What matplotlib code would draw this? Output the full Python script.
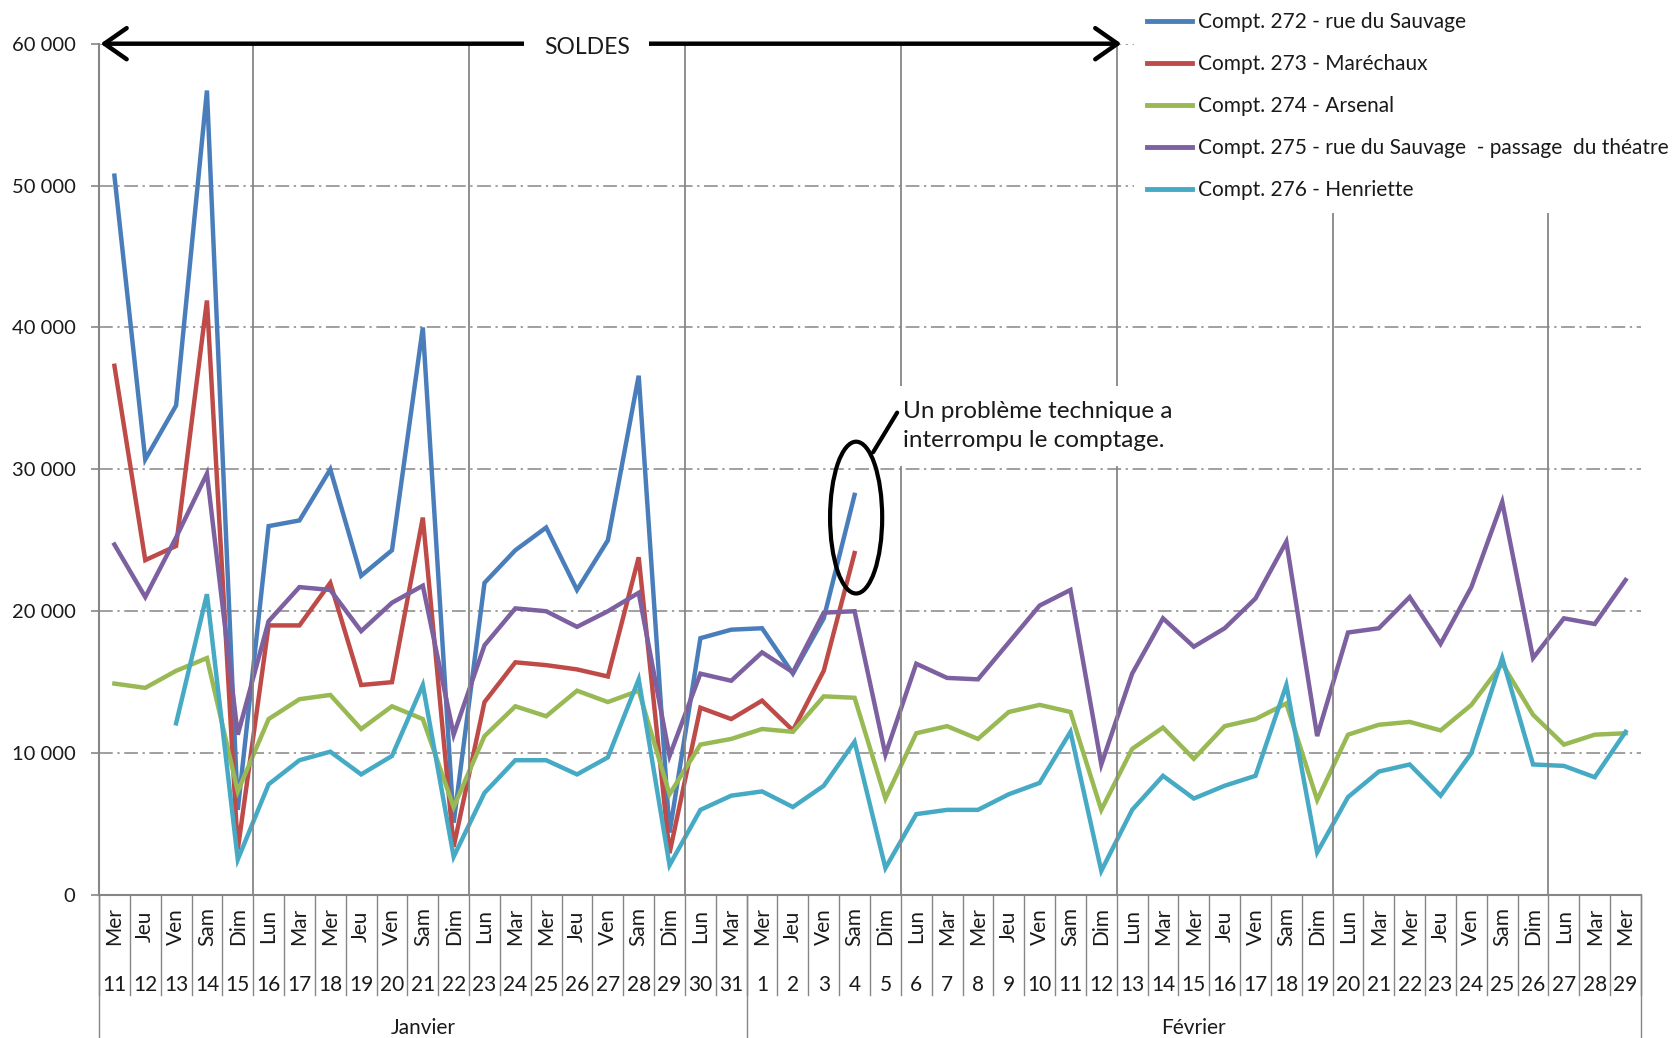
import numpy as np
import matplotlib
matplotlib.use("Agg")
import matplotlib.pyplot as plt
import matplotlib.transforms as mtransforms
from matplotlib.patches import Ellipse
from matplotlib.ticker import FuncFormatter

plt.rcParams['font.family'] = ['Lato', 'DejaVu Sans']

nan = np.nan

day_names = ["Mer", "Jeu", "Ven", "Sam", "Dim", "Lun", "Mar",
             "Mer", "Jeu", "Ven", "Sam", "Dim", "Lun", "Mar",
             "Mer", "Jeu", "Ven", "Sam", "Dim", "Lun", "Mar",
             "Mer", "Jeu", "Ven", "Sam", "Dim", "Lun", "Mar",
             "Mer", "Jeu", "Ven", "Sam", "Dim", "Lun", "Mar",
             "Mer", "Jeu", "Ven", "Sam", "Dim", "Lun", "Mar",
             "Mer", "Jeu", "Ven", "Sam", "Dim", "Lun", "Mar",
             "Mer"]
day_numbers = ["11", "12", "13", "14", "15", "16", "17", "18", "19", "20",
               "21", "22", "23", "24", "25", "26", "27", "28", "29", "30", "31",
               "1", "2", "3", "4", "5", "6", "7", "8", "9", "10",
               "11", "12", "13", "14", "15", "16", "17", "18", "19", "20",
               "21", "22", "23", "24", "25", "26", "27", "28", "29"]
months = ["Janvier", "Février"]
month_days = [21, 29]

series_names = ["Compt. 272 - rue du Sauvage",
                "Compt. 273 - Maréchaux",
                "Compt. 274 - Arsenal",
                "Compt. 275 - rue du Sauvage  - passage  du théatre",
                "Compt. 276 - Henriette"]

c272 = [50700, 30700, 34500, 56700, 6000, 26000, 26400, 30000, 22500, 24300,
        40000, 5100, 22000, 24300, 25900, 21500, 25000, 36600, 4400, 18100, 18700,
        18800, 15600, 19500, 28200, nan, nan, nan, nan, nan, nan,
        nan, nan, nan, nan, nan, nan, nan, nan, nan, nan,
        nan, nan, nan, nan, nan, nan, nan, nan, nan]
c273 = [37300, 23600, 24600, 41900, 3200, 19000, 19000, 22000, 14800, 15000,
        26600, 3400, 13600, 16400, 16200, 15900, 15400, 23800, 2950, 13200, 12400,
        13700, 11600, 15800, 24100, nan, nan, nan, nan, nan, nan,
        nan, nan, nan, nan, nan, nan, nan, nan, nan, nan,
        nan, nan, nan, nan, nan, nan, nan, nan, nan]
c274 = [14900, 14600, 15800, 16700, 7300, 12400, 13800, 14100, 11700, 13300,
        12400, 6200, 11200, 13300, 12600, 14400, 13600, 14400, 7100, 10600, 11000,
        11700, 11500, 14000, 13900, 6800, 11400, 11900, 11000, 12900, 13400,
        12900, 6000, 10300, 11800, 9600, 11900, 12400, 13500, 6700, 11300,
        12000, 12200, 11600, 13400, 16300, 12700, 10600, 11300, 11400]
c275 = [24700, 21000, 25200, 29700, 11300, 19300, 21700, 21500, 18600, 20600,
        21800, 11300, 17600, 20200, 20000, 18900, 20000, 21300, 9800, 15600, 15100,
        17100, 15700, 19900, 20000, 9900, 16300, 15300, 15200, 17800, 20400,
        21500, 9200, 15600, 19500, 17500, 18800, 20900, 24900, 11200, 18500,
        18800, 21000, 17700, 21700, 27700, 16700, 19500, 19100, 22200]
c276 = [nan, nan, 12100, 21200, 2500, 7800, 9500, 10100, 8500, 9800,
        14800, 2700, 7200, 9500, 9500, 8500, 9700, 15200, 2100, 6000, 7000,
        7300, 6200, 7700, 10800, 1900, 5700, 6000, 6000, 7100, 7900,
        11500, 1700, 6000, 8400, 6800, 7700, 8400, 14800, 3000, 6900,
        8700, 9200, 7000, 10000, 16700, 9200, 9100, 8300, 11500]

colors = ["#4A7EBB", "#BE4B48", "#98B954", "#7D60A0", "#46AAC5"]
GRAY = "#868686"
TXT = "#1a1a1a"
FS = 14.5

fig = plt.figure(figsize=(16.72, 10.38), dpi=100)
ax = fig.add_axes([99 / 1672, 1 - 895 / 1038, (1641 - 99) / 1672, (895 - 43.7) / 1038])

x = np.arange(len(day_names))
handles = []
for vals, col, name in zip([c272, c273, c274, c275, c276], colors, series_names):
    h, = ax.plot(x, np.array(vals, dtype=float), color=col, lw=3.2, label=name,
                 solid_joinstyle='miter', zorder=3)
    handles.append(h)

ax.set_xlim(-0.5, len(day_names) - 0.5)
ax.set_ylim(0, 60000)
ax.set_yticks(np.arange(0, 60001, 10000))
ax.yaxis.set_major_formatter(FuncFormatter(lambda v, p: f"{int(v):,}".replace(",", " ")))
ax.tick_params(axis='y', length=6, width=1.2, color=GRAY, labelsize=FS,
               labelcolor=TXT, pad=11)
ax.set_xticks([])
ax.grid(axis='y', color=GRAY, lw=1.1, linestyle=(0, (9, 3, 1.5, 3)))
ax.set_axisbelow(True)
for s in ['top', 'right']:
    ax.spines[s].set_visible(False)
for s in ['left', 'bottom']:
    ax.spines[s].set_color(GRAY)
    ax.spines[s].set_linewidth(1.5)

# weekly separators (after each Sunday)
for i, d in enumerate(day_names):
    if d == "Dim":
        ax.axvline(i + 0.5, color=GRAY, lw=1.3, zorder=4)

# multi-level category axis
trans = mtransforms.blended_transform_factory(ax.transData, ax.transAxes)
for i, (d, n) in enumerate(zip(day_names, day_numbers)):
    ax.text(i, -0.037, d, rotation=90, ha='center', va='center', fontsize=FS + 0.5,
            color=TXT, transform=trans, clip_on=False)
    ax.text(i, -0.1057, n, ha='center', va='center', fontsize=FS + 0.5,
            color=TXT, transform=trans, clip_on=False)
for i in range(len(day_names) + 1):
    ax.plot([i - 0.5, i - 0.5], [0, -0.1175], color=GRAY, lw=1.0,
            transform=trans, clip_on=False)
start = 0
for m, nd in zip(months, month_days):
    ax.text(start + nd / 2 - 0.5, -0.156, m, ha='center', va='center',
            fontsize=FS + 0.5, color=TXT, transform=trans, clip_on=False)
    start += nd
edges = np.concatenate([[0], np.cumsum(month_days)]) - 0.5
for e in edges:
    ax.plot([e, e], [0, -0.175], color=GRAY, lw=1.0, transform=trans, clip_on=False)

# SOLDES arrow
ax.annotate('', xy=(-0.45, 60000), xytext=(32.65, 60000),
            arrowprops=dict(arrowstyle='<->,head_length=0.4,head_width=0.28',
                            lw=3.2, color='black', mutation_scale=40,
                            shrinkA=0, shrinkB=0),
            annotation_clip=False, zorder=6)
ax.text(15.32, 59750, "SOLDES", ha='center', va='center', fontsize=16.5, color=TXT,
        bbox=dict(boxstyle='square,pad=0.85', fc='white', ec='none'), zorder=7,
        clip_on=False)

# technical problem annotation
ax.add_patch(Ellipse((24.05, 26600), width=1.69, height=10700, fill=False,
                     lw=3, ec='black', zorder=6))
ax.annotate('', xy=(24.6, 31200), xytext=(25.38, 34000),
            arrowprops=dict(arrowstyle='-', lw=3, color='black',
                            shrinkA=0, shrinkB=0), zorder=6)
ax.text(25.57, 33050, "Un problème technique a\ninterrompu le comptage.",
        ha='left', va='center', fontsize=17.5, color=TXT, linespacing=1.5,
        bbox=dict(boxstyle='square,pad=0.6', fc='white', ec='none'), zorder=5)

leg = fig.legend(handles=handles, loc='upper left', bbox_to_anchor=(1134 / 1672, 1.0),
                 bbox_transform=fig.transFigure, fontsize=15, frameon=True,
                 fancybox=False, facecolor='white', edgecolor='none', framealpha=1,
                 handlelength=2.2, handletextpad=0.25, labelspacing=1.05,
                 borderpad=0.6, borderaxespad=0)
for t in leg.get_texts():
    t.set_color(TXT)
for l in leg.get_lines():
    l.set_linewidth(3.5)

fig.savefig("out.png", dpi=100)
